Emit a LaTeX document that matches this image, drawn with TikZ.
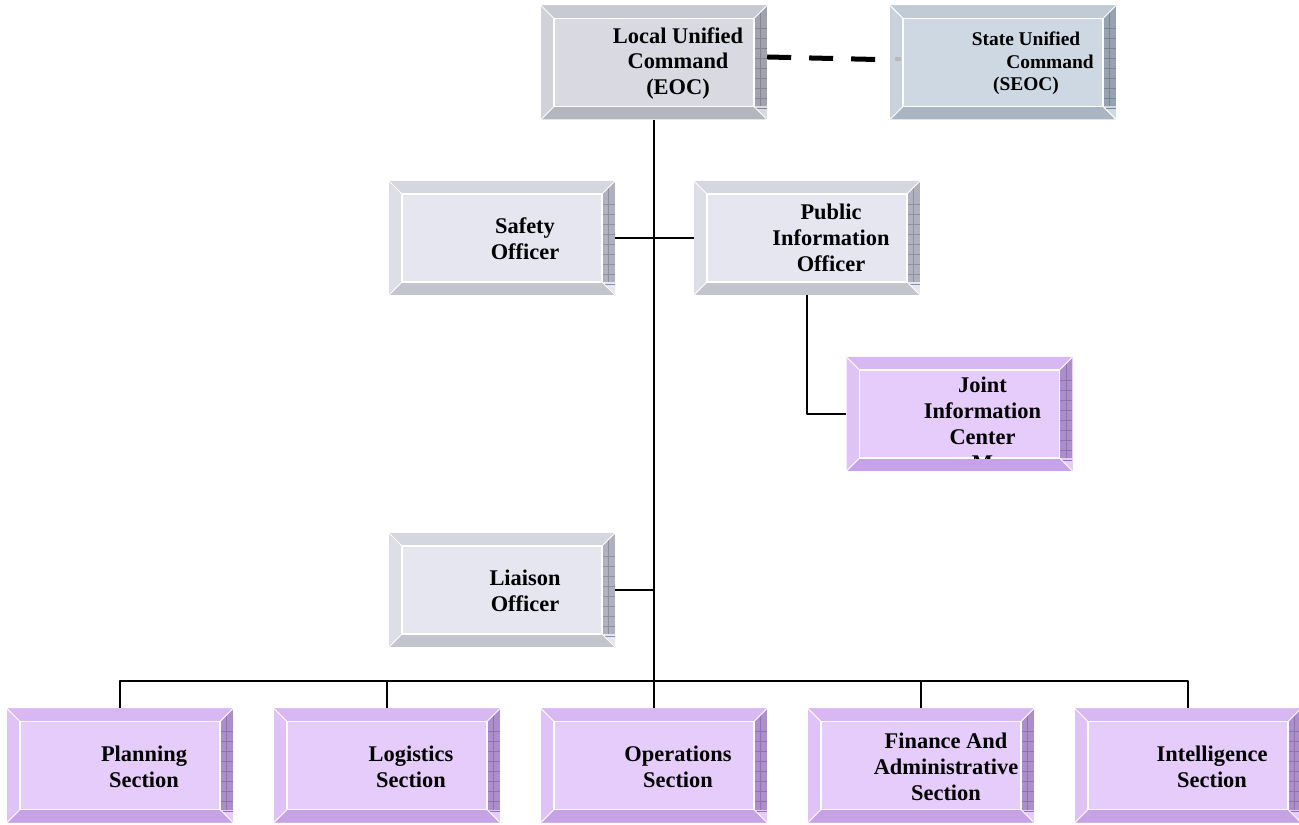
\documentclass[tikz,border=0pt]{standalone}
\usepackage{fontspec}
\setmainfont{Liberation Serif}
\usepackage{tikz}

%% bevel colours
\definecolor{gface}{HTML}{E6E6F0}
\definecolor{gtop}{HTML}{D6D6E0}
\definecolor{gleft}{HTML}{DEDEE8}
\definecolor{gbot}{HTML}{C4C4CE}
\definecolor{gright}{HTML}{B0B0BE}
\definecolor{ggrid}{HTML}{90909E}
\definecolor{eface}{HTML}{D9D9E2}
\definecolor{etop}{HTML}{C9C9D3}
\definecolor{eleft}{HTML}{D1D1DA}
\definecolor{ebot}{HTML}{B5B5C0}
\definecolor{eright}{HTML}{A2A2AE}
\definecolor{egrid}{HTML}{848492}
\definecolor{sface}{HTML}{CED8E2}
\definecolor{stop}{HTML}{C0CBD6}
\definecolor{sleft}{HTML}{C8D2DC}
\definecolor{sbot}{HTML}{A9B5C2}
\definecolor{sright}{HTML}{96A2B0}
\definecolor{sgrid}{HTML}{7A8694}
\definecolor{pface}{HTML}{E6CCFA}
\definecolor{ptop}{HTML}{D8B8F2}
\definecolor{pleft}{HTML}{DFC2F6}
\definecolor{pbot}{HTML}{C6A3E6}
\definecolor{pright}{HTML}{AC8ECA}
\definecolor{pgrid}{HTML}{9072B0}

\tikzset{
  bevel/.style n args={6}{fill=#1, minimum width=226bp, minimum height=114bp, inner sep=0pt,
    path picture={
      \path (path picture bounding box.north west) coordinate (pnw)
            (path picture bounding box.north east) coordinate (pne)
            (path picture bounding box.south west) coordinate (psw)
            (path picture bounding box.south east) coordinate (pse);
      \path ([shift={(13bp,-13bp)}]pnw) coordinate (qnw)
            ([shift={(-13bp,-13bp)}]pne) coordinate (qne)
            ([shift={(13bp,13bp)}]psw) coordinate (qsw)
            ([shift={(-13bp,13bp)}]pse) coordinate (qse);
      \fill[#2] (pnw) -- (pne) -- (qne) -- (qnw) -- cycle;
      \fill[#3] (pnw) -- (qnw) -- (qsw) -- (psw) -- cycle;
      \fill[#4] (psw) -- (qsw) -- (qse) -- (pse) -- cycle;
      \begin{scope}
        \clip (pne) -- (pse) -- (qse) -- (qne) -- cycle;
        \fill[#5] (pne) rectangle (qse);
        \draw[#6, line width=.6bp] ([xshift=-6.5bp]pne) -- ([xshift=6.5bp]qse);
        \foreach \k in {1,...,11}
          \draw[#6, line width=.6bp] ([yshift=-\k*10bp]qne) -- ([shift={(13bp,-\k*10bp)}]qne);
      \end{scope}
      \draw[white, line width=1.2bp] (qnw) rectangle (qse);
      \draw[white, line width=1bp] (pnw) -- (qnw) (psw) -- (qsw) (pne) -- (qne) (pse) -- (qse);
    }},
  greybox/.style={bevel={gface}{gtop}{gleft}{gbot}{gright}{ggrid}},
  eocbox/.style={bevel={eface}{etop}{eleft}{ebot}{eright}{egrid}},
  seocbox/.style={bevel={sface}{stop}{sleft}{sbot}{sright}{sgrid}},
  purplebox/.style={bevel={pface}{ptop}{pleft}{pbot}{pright}{pgrid}},
}

\begin{document}
\begin{tikzpicture}[x=1bp,y=1bp,line join=bevel,
  txt/.style={font=\fontsize{22.5}{26}\selectfont\bfseries,align=center,inner sep=0pt},
  link/.style={line width=2bp}]
\useasboundingbox (0,0) rectangle (1299,824);
%% commands
\node (eoc) at (654bp,761.5bp) [eocbox] {};
\node (seoc) at (1003bp,761.5bp) [seocbox] {};
%% officers
\node (safety) at (502bp,586bp) [greybox] {};
\node (pio) at (807bp,586bp) [greybox] {};
\node (jic) at (959.5bp,410bp) [purplebox] {};
\node (liaison) at (502bp,234bp) [greybox] {};
%% sections
\node (plan) at (120bp,58.5bp) [purplebox] {};
\node (logi) at (387bp,58.5bp) [purplebox] {};
\node (ops) at (654bp,58.5bp) [purplebox] {};
\node (fin) at (921bp,58.5bp) [purplebox] {};
\node (intel) at (1188bp,58.5bp) [purplebox] {};
%% texts
\node (eoc-t) at ([xshift=24bp,yshift=-1bp]eoc.center) [txt] {Local Unified\\Command\\(EOC)};
\node (seoc-t) at ([xshift=23bp,yshift=-1bp]seoc.center) [txt,font=\fontsize{19.5}{22.5}\selectfont\bfseries] {State Unified\\\hspace*{48bp}Command\\(SEOC)};
\node (safety-t) at ([xshift=23bp,yshift=-1bp]safety.center) [txt] {Safety\\Officer};
\node (pio-t) at ([xshift=24bp]pio.center) [txt] {Public\\Information\\Officer};
\begin{scope}
\clip ([shift={(13bp,13bp)}]jic.south west) rectangle ([shift={(-13bp,-13bp)}]jic.north east);
\node (jic-t) at ([xshift=23bp,yshift=-10bp]jic.center) [txt] {Joint\\Information\\Center\\M};
\end{scope}
\node (liaison-t) at ([xshift=23bp,yshift=-1bp]liaison.center) [txt] {Liaison\\Officer};
\node (plan-t) at ([xshift=24bp,yshift=-1bp]plan.center) [txt] {Planning\\Section};
\node (logi-t) at ([xshift=24bp,yshift=-1bp]logi.center) [txt] {Logistics\\Section};
\node (ops-t) at ([xshift=24bp,yshift=-1bp]ops.center) [txt] {Operations\\Section};
\node (fin-t) at ([xshift=25bp,yshift=-1bp]fin.center) [txt] {Finance And\\Administrative\\Section};
\node (intel-t) at ([xshift=24bp,yshift=-1bp]intel.center) [txt] {Intelligence\\Section};
%% links
\draw [link] (eoc.south) -- (ops.north);
\draw [link] (safety.east) -- (pio.west);
\draw [link] (pio.south) |- (jic.west);
\draw [link] (liaison.east) -- (liaison.east -| eoc.south);
\coordinate (bus) at (654bp,143bp);
\draw [link] (plan.north) |- (bus) -| (intel.north);
\draw [link] (logi.north) -- (logi.north |- bus);
\draw [link] (fin.north) -- (fin.north |- bus);
\draw [line width=5bp,dash pattern=on 24bp off 18bp] ([yshift=5.5bp]eoc.east) -- ([xshift=-14bp,yshift=3bp]seoc.west);
\fill [gray!55] ([xshift=5bp,yshift=1bp]seoc.west) rectangle ([xshift=11bp,yshift=5bp]seoc.west);
%
\end{tikzpicture}
\end{document}
